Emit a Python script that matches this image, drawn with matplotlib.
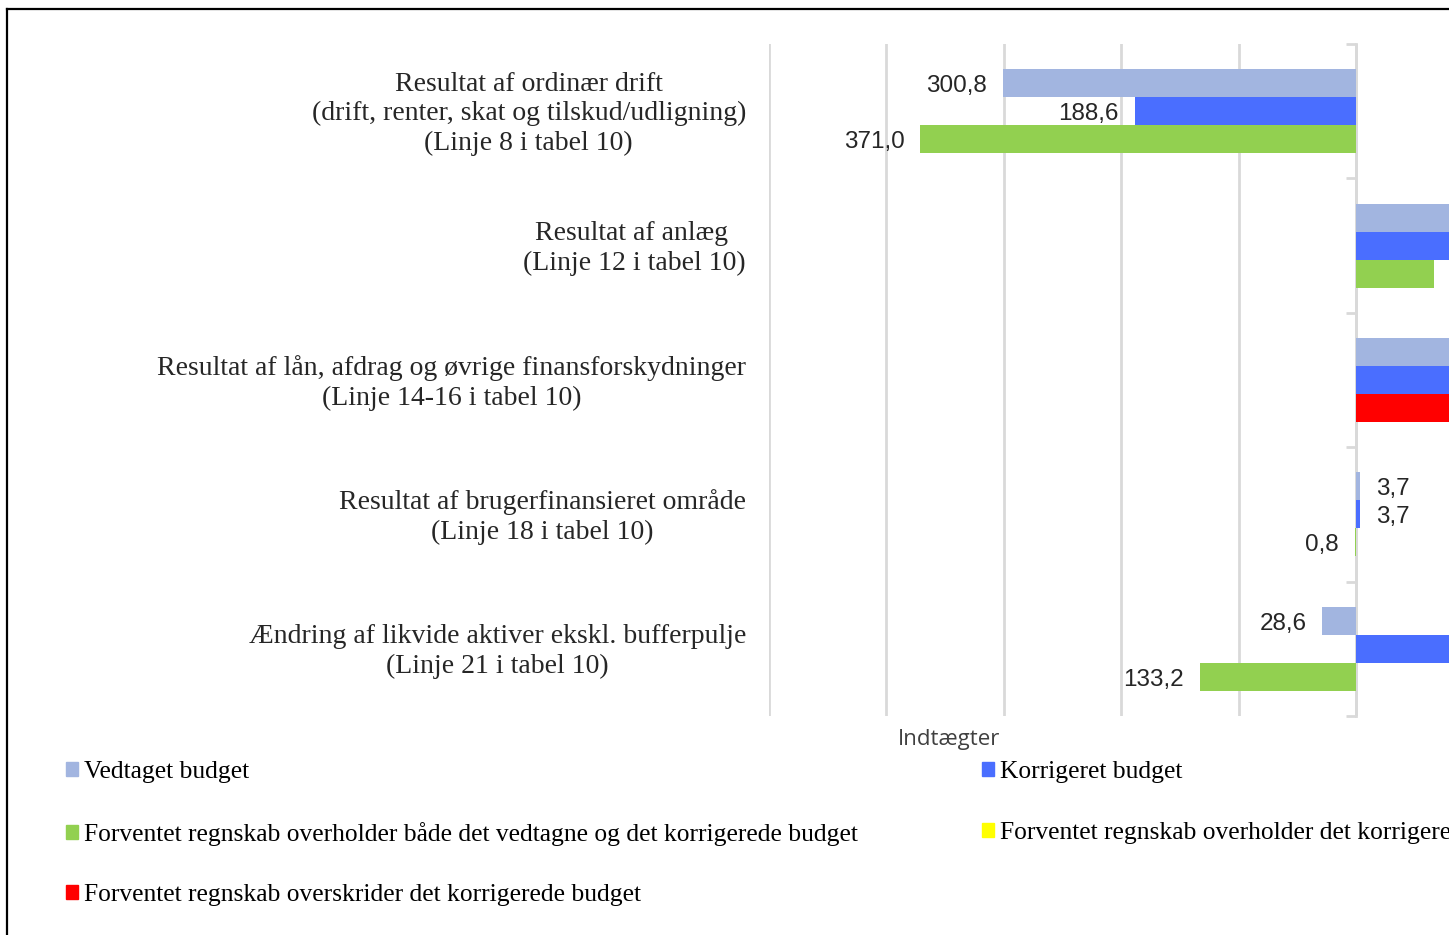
import numpy as np
import matplotlib.pyplot as plt
from matplotlib.patches import Patch
from matplotlib.lines import Line2D
from matplotlib.transforms import blended_transform_factory

# data (indtægter negative, udgifter positive)
categories = [
    "Resultat af ordinær drift\n(drift, renter, skat og tilskud/udligning)\n(Linje 8 i tabel 10)",
    "Resultat af anlæg \n(Linje 12 i tabel 10)",
    "Resultat af lån, afdrag og øvrige finansforskydninger\n(Linje 14-16 i tabel 10)",
    "Resultat af brugerfinansieret område\n(Linje 18 i tabel 10)",
    "Ændring af likvide aktiver ekskl. bufferpulje\n(Linje 21 i tabel 10)",
]
vedtaget = [-300.8, 210.0, 140.0, 3.7, -28.6]
korrigeret = [-188.6, 260.0, 160.0, 3.7, 120.0]
forventet = [-371.0, 66.4, 180.0, -0.8, -133.2]
forventet_status = ["green", "green", "red", "green", "green"]

c_ved = "#A2B5E0"
c_kor = "#4A6EFF"
status_colors = {"green": "#92D050", "yellow": "#FFFF00", "red": "#FF0000"}

W, H = 1449, 935
fig = plt.figure(figsize=(W / 100, H / 100), dpi=100)
# the visible chart is cut at the right edge of the picture
ax = fig.add_axes([769 / W, (H - 716) / H, (W - 769) / W, 672 / H])

y = np.arange(len(categories))
bh = 0.208
ax.barh(y - bh, vedtaget, height=bh, color=c_ved, zorder=3)
ax.barh(y, korrigeret, height=bh, color=c_kor, zorder=3)
ax.barh(y + bh, forventet, height=bh,
        color=[status_colors[s] for s in forventet_status], zorder=3)

ax.set_xlim(-500, -500 + (W - 769) / 1.174)
ax.set_ylim(len(categories) - 0.5, -0.5)

for s in ["top", "right", "bottom"]:
    ax.spines[s].set_visible(False)
ax.spines["left"].set_position(("data", 0))
ax.spines["left"].set_color("#D9D9D9")
ax.spines["left"].set_linewidth(2)
ax.set_yticks(np.arange(len(categories) + 1) - 0.5)
ax.set_yticklabels([])
ax.tick_params(axis="y", length=7, width=2, color="#D9D9D9", direction="out")
ax.set_xticks(np.arange(-500, 1, 100))
ax.set_xticklabels([])
ax.tick_params(axis="x", length=0)
ax.grid(axis="x", color="#D9D9D9", linewidth=2, zorder=0)
ax.set_axisbelow(True)


def fmt(v):
    return f"{abs(v):.1f}".replace(".", ",")


for offs, vals in [(-bh, vedtaget), (0, korrigeret), (bh, forventet)]:
    for yi, v in zip(y, vals):
        dx = 11.5 if v >= 0 else -11.5
        ax.annotate(fmt(v), (v, yi + offs), xytext=(dx, -2), textcoords="offset points",
                    ha="left" if v >= 0 else "right", va="center",
                    fontsize=17.5, family="Liberation Sans", color="#262626",
                    annotation_clip=True)

# category labels left of the plot
tr = blended_transform_factory(fig.transFigure, ax.transData)
for yi, lab in zip(y, categories):
    ax.annotate(lab, (746 / W, yi), xycoords=tr, xytext=(0, -2),
                textcoords="offset points", ha="right", va="center",
                multialignment="center", fontsize=20, family="Liberation Serif",
                color="#262626", linespacing=1.25)

fig.text(949 / W, 1 - 739 / H, "Indtægter", ha="center", va="center",
         fontsize=16, family="Open Sans", color="#404040")

handles = [
    Patch(color=c_ved, label="Vedtaget budget"),
    Patch(color=status_colors["green"],
          label="Forventet regnskab overholder både det vedtagne og det korrigerede budget"),
    Patch(color=status_colors["red"], label="Forventet regnskab overskrider det korrigerede budget"),
    Patch(color=c_kor, label="Korrigeret budget"),
    Patch(color=status_colors["yellow"], label="Forventet regnskab overholder det korrigerede budget"),
]
fig.legend(handles=handles, loc="upper left", bbox_to_anchor=(56 / W, 1 - 751 / H),
           ncol=2, frameon=False, prop={"family": "Liberation Serif", "size": 18.4},
           handlelength=0.47, handleheight=0.47, handletextpad=0.23,
           labelspacing=1.51, columnspacing=4.85, borderaxespad=0)

# outer frame (cut off to the right and bottom)
fig.add_artist(Line2D([7 / W, 7 / W], [0, 1 - 9 / H], color="black", lw=1.6))
fig.add_artist(Line2D([7 / W, 1], [1 - 9 / H, 1 - 9 / H], color="black", lw=1.6))

fig.savefig("out.png", dpi=100)
